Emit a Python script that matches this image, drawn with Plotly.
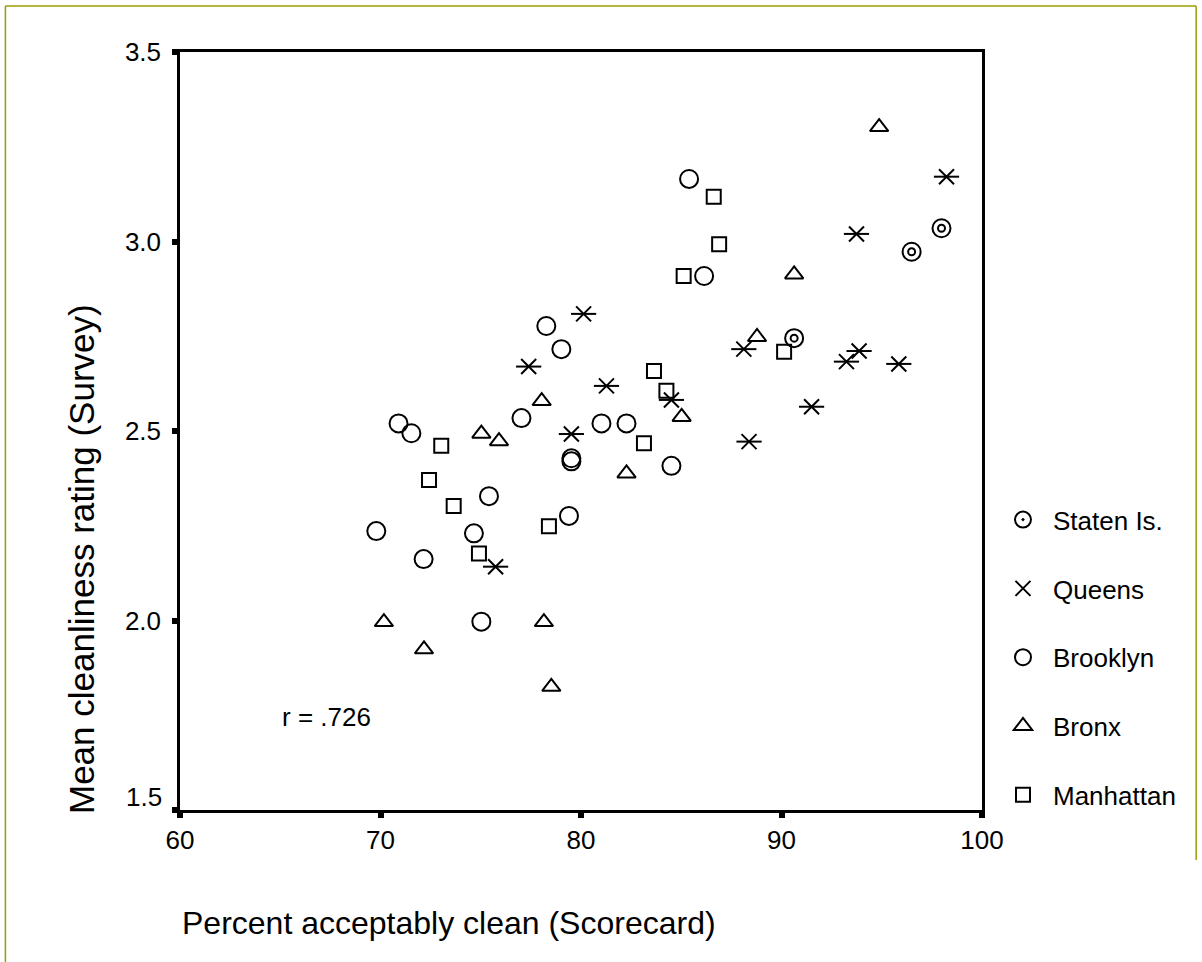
import plotly.graph_objects as go

# ---- data ----
staten_x = [97.98, 96.49, 90.63]
staten_y = [3.035, 2.973, 2.745]

queens_x = [98.23, 93.74, 80.13, 77.39, 81.27, 84.51, 79.52, 75.74, 88.12, 88.38, 91.50, 93.24, 93.87, 95.85]
queens_y = [3.171, 3.020, 2.809, 2.670, 2.619, 2.582, 2.492, 2.142, 2.716, 2.472, 2.564, 2.683, 2.711, 2.677]

brooklyn_x = [85.39, 86.14, 78.27, 79.02, 77.03, 70.90, 71.54, 81.02, 82.27, 79.52, 79.52, 84.51,
              75.41, 79.40, 74.66, 69.79, 72.15, 75.03]
brooklyn_y = [3.165, 2.909, 2.777, 2.716, 2.534, 2.520, 2.494, 2.520, 2.520, 2.428, 2.420, 2.408,
              2.328, 2.276, 2.230, 2.236, 2.162, 1.997]

bronx_x = [94.87, 90.63, 88.78, 78.04, 85.02, 75.03, 75.91, 82.27, 70.17, 78.15, 72.17, 78.52]
bronx_y = [3.302, 2.913, 2.748, 2.579, 2.537, 2.493, 2.473, 2.388, 1.996, 1.996, 1.924, 1.825]

manhattan_x = [86.62, 86.89, 85.12, 83.64, 84.26, 90.13, 73.03, 83.14, 72.42, 73.65, 78.40, 74.91]
manhattan_y = [3.118, 2.993, 2.909, 2.658, 2.606, 2.709, 2.461, 2.468, 2.371, 2.302, 2.249, 2.177]

x_ticks = [60, 70, 80, 90, 100]
y_ticks = [1.5, 2.0, 2.5, 3.0, 3.5]
y_tick_labels = ["1.5", "2.0", "2.5", "3.0", "3.5"]
r_label = "r = .726"
r_pos = (64.97, 1.745)

FONT = "Arial, Liberation Sans, sans-serif"
BLACK = "#000000"
OLIVE = "#9c9c00"

fig = go.Figure()

# Staten Is. : ring in ring
fig.add_trace(go.Scatter(
    x=staten_x, y=staten_y, mode="markers", name="Staten Is.", legendgroup="si",
    marker=dict(symbol="circle-open-dot", size=18, color=BLACK, line=dict(width=2, color=BLACK)),
))
fig.add_trace(go.Scatter(
    x=staten_x, y=staten_y, mode="markers", name="Staten Is.", legendgroup="si", showlegend=False,
    marker=dict(symbol="circle", size=7, color="white", line=dict(width=2, color=BLACK)),
))
# Queens : six-ray asterisk (X + horizontal bar)
fig.add_trace(go.Scatter(
    x=queens_x, y=queens_y, mode="markers", name="Queens", legendgroup="qn",
    marker=dict(symbol="x-thin-open", size=15, color=BLACK, line=dict(width=2, color=BLACK)),
))
fig.add_trace(go.Scatter(
    x=queens_x, y=queens_y, mode="markers", name="Queens", legendgroup="qn", showlegend=False,
    marker=dict(symbol="line-ew-open", size=18, color=BLACK, line=dict(width=2, color=BLACK)),
))
fig.add_trace(go.Scatter(
    x=brooklyn_x, y=brooklyn_y, mode="markers", name="Brooklyn", legendgroup="bk",
    marker=dict(symbol="circle-open", size=18, color=BLACK, line=dict(width=2, color=BLACK)),
))
fig.add_trace(go.Scatter(
    x=bronx_x, y=bronx_y, mode="markers", name="Bronx", legendgroup="bx",
    marker=dict(symbol="triangle-up-open", size=16, color=BLACK, line=dict(width=2, color=BLACK)),
))
fig.add_trace(go.Scatter(
    x=manhattan_x, y=manhattan_y, mode="markers", name="Manhattan", legendgroup="mh",
    marker=dict(symbol="square-open", size=14, color=BLACK, line=dict(width=2, color=BLACK)),
))

axis_common = dict(
    showgrid=False, zeroline=False, showline=True, linecolor=BLACK, linewidth=2.5, mirror=True,
    ticks="outside", ticklen=5, tickwidth=6, tickcolor=BLACK,
    tickfont=dict(family=FONT, size=26, color=BLACK),
)

# the bottom y label sits a little above its tick in the reference
y_ticktext = ["" if v == 1.5 else t for v, t in zip(y_ticks, y_tick_labels)]

fig.update_layout(
    width=1202, height=962,
    margin=dict(l=180, r=220, t=52, b=152, pad=0),
    paper_bgcolor="white", plot_bgcolor="white",
    font=dict(family=FONT, color=BLACK),
    xaxis=dict(range=[60, 100], tickvals=x_ticks, ticktext=[str(v) for v in x_ticks],
               ticklabelstandoff=0, **axis_common),
    yaxis=dict(range=[1.5, 3.5], tickvals=y_ticks, ticktext=y_ticktext,
               ticklabelstandoff=6, **axis_common),
    showlegend=True,
    legend=dict(
        x=1.0137, xanchor="left", y=0.414, yanchor="top",
        font=dict(family=FONT, size=26, color=BLACK),
        itemwidth=50, tracegroupgap=32, traceorder="grouped",
        bgcolor="rgba(0,0,0,0)", borderwidth=0,
    ),
    annotations=[
        dict(text=y_tick_labels[0], x=0, y=y_ticks[0], xref="paper", yref="y",
             xanchor="right", yanchor="middle", xshift=-16, yshift=13, showarrow=False,
             font=dict(family=FONT, size=26, color=BLACK)),
        dict(text=r_label, x=r_pos[0], y=r_pos[1], xref="x", yref="y", xanchor="left", yanchor="middle",
             showarrow=False, font=dict(family=FONT, size=26, color=BLACK)),
        dict(text="Percent acceptably clean (Scorecard)", x=0, y=0, xref="paper", yref="paper",
             xanchor="left", yanchor="middle", yshift=-113, showarrow=False,
             font=dict(family=FONT, size=32, color=BLACK)),
        dict(text="Mean cleanliness rating (Survey)", x=0, y=0, xref="paper", yref="paper",
             xanchor="center", yanchor="bottom", xshift=-99, yshift=-6, textangle=-90, showarrow=False,
             font=dict(family=FONT, size=35, color=BLACK)),
    ],
    shapes=[
        dict(type="line", xref="paper", yref="paper", x0=-0.2177, x1=1.267, y0=1.0607, y1=1.0607,
             line=dict(color=OLIVE, width=1.5)),
        dict(type="line", xref="paper", yref="paper", x0=-0.2177, x1=-0.2177, y0=1.0607, y1=-0.21,
             line=dict(color=OLIVE, width=1.5)),
        dict(type="line", xref="paper", yref="paper", x0=1.267, x1=1.267, y0=1.0607, y1=-0.066,
             line=dict(color=OLIVE, width=1.5)),
    ],
)

fig.write_html("out.html", config={"displayModeBar": False},
               post_script="document.body.style.margin='0';")
